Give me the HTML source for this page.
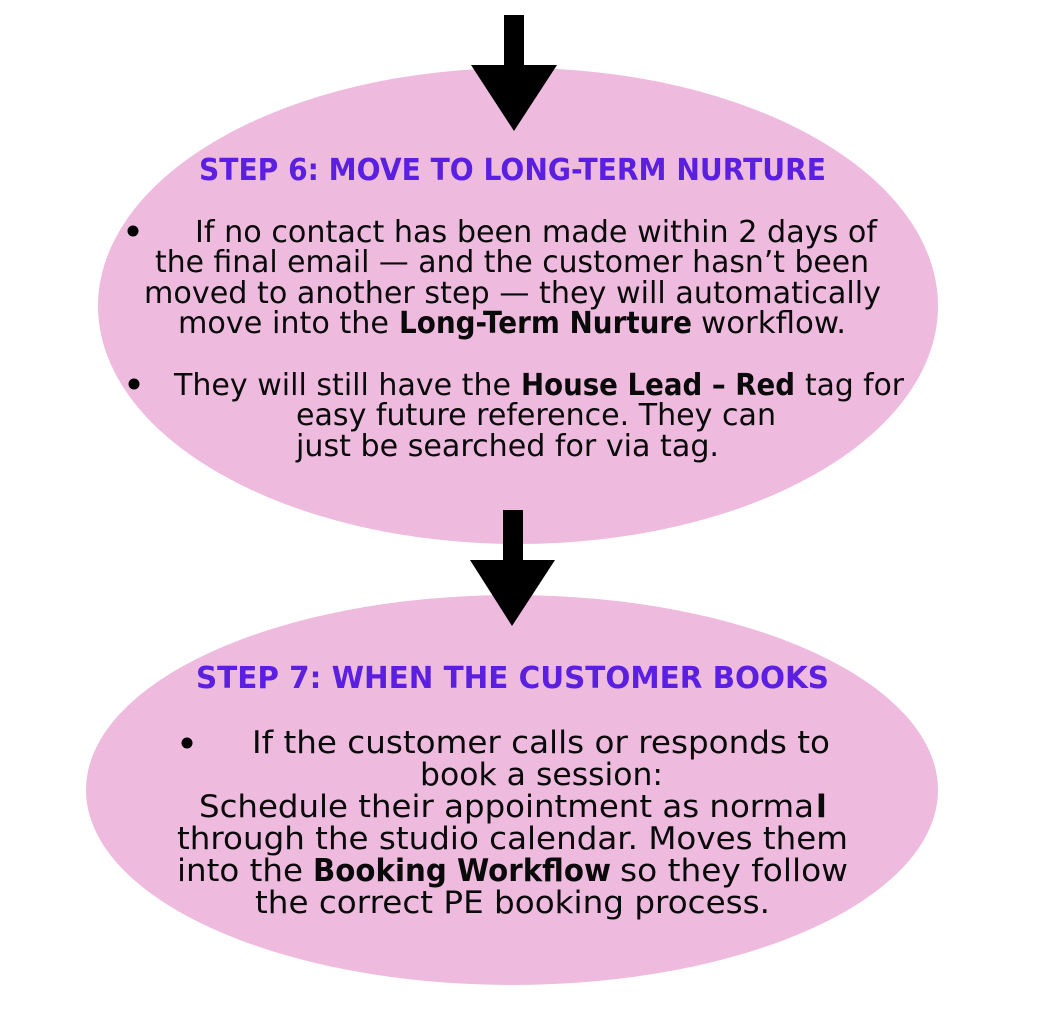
<!DOCTYPE html>
<html>
<head>
<meta charset="utf-8">
<style>
html,body{margin:0;padding:0;background:#fff;}
svg{display:block;}
text{font-family:"DejaVu Sans","Liberation Sans",sans-serif;fill:#0a0a0a;}
.t{font-size:30px;font-weight:700;fill:#5a1fe0;}
.b{font-size:30px;}
.c{font-size:31.5px;}
.h{font-weight:700;}
</style>
</head>
<body>
<svg width="1040" height="1030" viewBox="0 0 1040 1030" xmlns="http://www.w3.org/2000/svg">
<rect width="1040" height="1030" fill="#fff"/>
<ellipse cx="518" cy="306" rx="420" ry="238" fill="#eebbdf"/>
<ellipse cx="512" cy="790" rx="426" ry="195" fill="#eebbdf"/>
<polygon points="504,15 524,15 524,65 557,65 514,131 471,65 504,65" fill="#000"/>
<polygon points="503,510 523,510 523,560 555,560 512,626 470,560 503,560" fill="#000"/>

<text class="t" x="199" y="180" textLength="627" lengthAdjust="spacingAndGlyphs">STEP 6: MOVE TO LONG-TERM NURTURE</text>
<circle cx="133" cy="231" r="5.5" fill="#000"/>
<text class="b" x="195" y="242" textLength="682" lengthAdjust="spacingAndGlyphs">If no contact has been made within 2 days of</text>
<text class="b" x="155" y="272" textLength="714" lengthAdjust="spacingAndGlyphs">the final email — and the customer hasn’t been</text>
<text class="b" x="144" y="303" textLength="737" lengthAdjust="spacingAndGlyphs">moved to another step — they will automatically</text>
<text class="b" x="178" y="333" textLength="211" lengthAdjust="spacingAndGlyphs">move into the</text>
<text class="b h" x="399" y="333" textLength="293" lengthAdjust="spacingAndGlyphs">Long-Term Nurture</text>
<text class="b" x="701" y="333" textLength="145" lengthAdjust="spacingAndGlyphs">workflow.</text>
<circle cx="134" cy="384" r="5.5" fill="#000"/>
<text class="b" x="174" y="395" textLength="337" lengthAdjust="spacingAndGlyphs">They will still have the</text>
<text class="b h" x="521" y="395" textLength="274" lengthAdjust="spacingAndGlyphs">House Lead – Red</text>
<text class="b" x="805" y="395" textLength="99" lengthAdjust="spacingAndGlyphs">tag for</text>
<text class="b" x="296" y="425" textLength="480" lengthAdjust="spacingAndGlyphs">easy future reference. They can</text>
<text class="b" x="296" y="456" textLength="423" lengthAdjust="spacingAndGlyphs">just be searched for via tag.</text>

<text class="t" x="196" y="688" textLength="633" lengthAdjust="spacingAndGlyphs">STEP 7: WHEN THE CUSTOMER BOOKS</text>
<circle cx="187" cy="743" r="5.5" fill="#000"/>
<text class="c" x="252" y="753" textLength="578" lengthAdjust="spacingAndGlyphs">If the customer calls or responds to</text>
<text class="c" x="420" y="785" textLength="243" lengthAdjust="spacingAndGlyphs">book a session:</text>
<text class="c" x="199" y="817" textLength="615" lengthAdjust="spacingAndGlyphs">Schedule their appointment as norma</text>
<text class="c h" x="816" y="817">l</text>
<text class="c" x="177" y="849" textLength="671" lengthAdjust="spacingAndGlyphs">through the studio calendar. Moves them</text>
<text class="c" x="177" y="881" textLength="126" lengthAdjust="spacingAndGlyphs">into the</text>
<text class="c h" x="313" y="881" textLength="298" lengthAdjust="spacingAndGlyphs">Booking Workflow</text>
<text class="c" x="620" y="881" textLength="228" lengthAdjust="spacingAndGlyphs">so they follow</text>
<text class="c" x="255" y="913" textLength="515" lengthAdjust="spacingAndGlyphs">the correct PE booking process.</text>
</svg>
</body>
</html>
